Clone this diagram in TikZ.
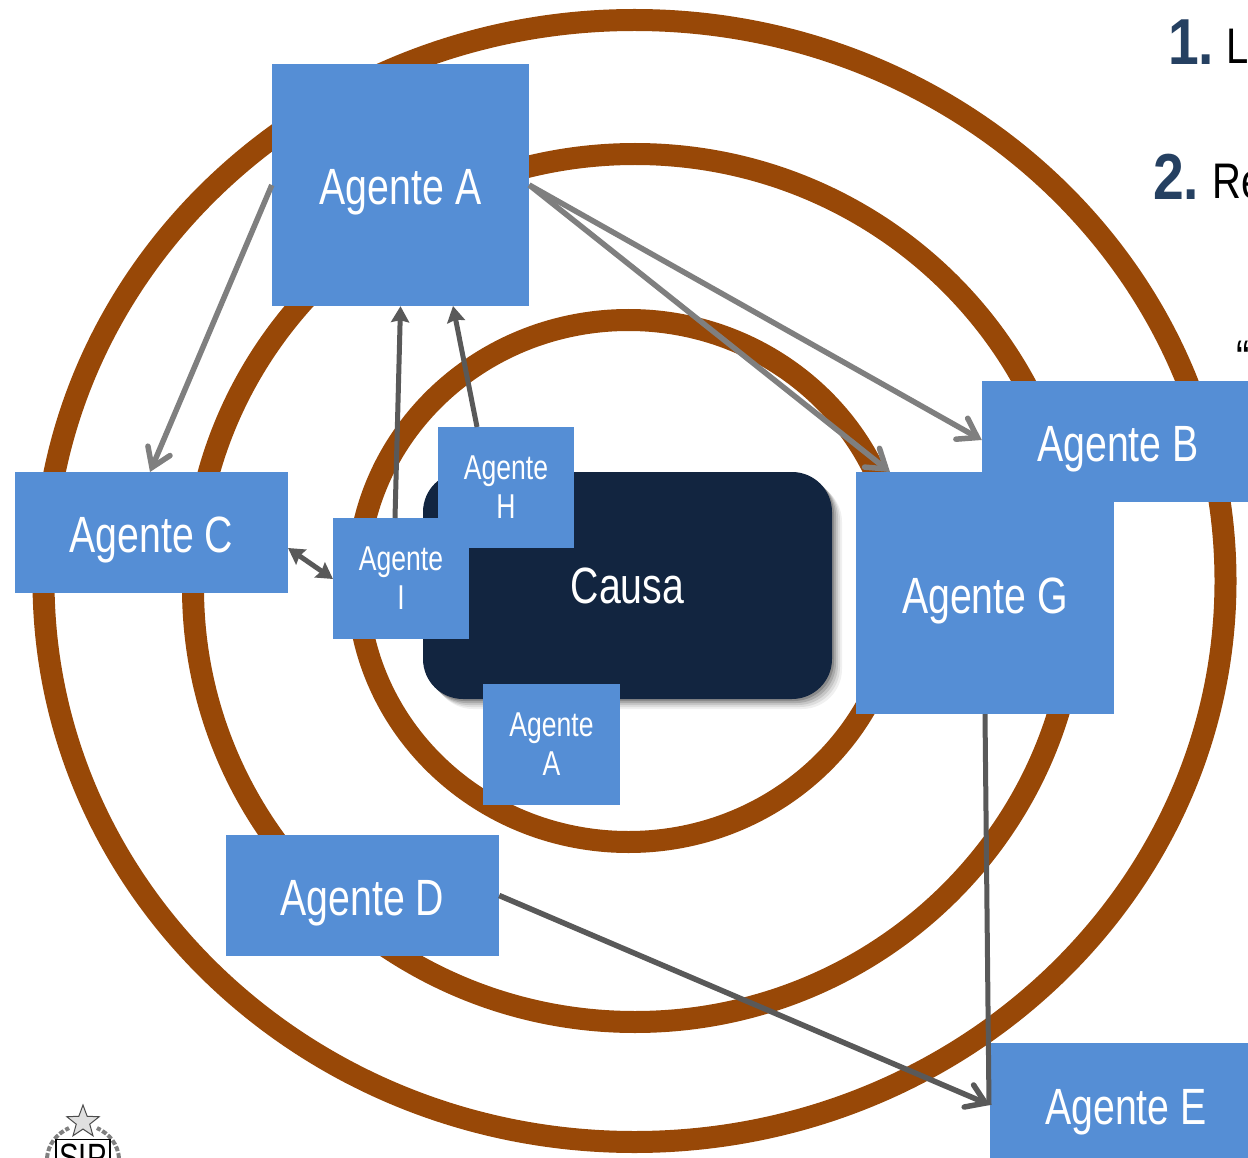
\documentclass[tikz,border=0pt]{standalone}
\usepackage{fontspec}
\setmainfont{Liberation Sans}
\newfontfamily\narrowfont[FakeStretch=0.77]{Liberation Sans}
\newfontfamily\labelfont[FakeStretch=0.8]{Liberation Sans}
\newfontfamily\numfont[FakeStretch=0.85]{Liberation Sans}
\usetikzlibrary{arrows.meta,shapes.geometric}
\definecolor{ringbrown}{HTML}{984807}
\definecolor{agentblue}{HTML}{558ED5}
\definecolor{causanavy}{HTML}{122540}
\definecolor{numnavy}{HTML}{254061}
\definecolor{lightarrow}{HTML}{7F7F7F}
\definecolor{darkarrow}{HTML}{595959}
\begin{document}
\begin{tikzpicture}[
				x=1pt, y=-1pt,
				ring/.style={draw=ringbrown, line width=22pt},
				agent/.style={rectangle, fill=agentblue, text=white, inner sep=0pt, font=\narrowfont\fontsize{51}{60}\selectfont},
				big/.style={agent, text height=51pt, text depth=11pt, minimum width=273pt, minimum height=121pt},
				tall/.style={agent, text height=51pt, text depth=11pt, minimum width=258pt, minimum height=242pt},
				small/.style={agent, align=center, minimum width=136pt, minimum height=121pt, font=\narrowfont\fontsize{34.5}{39}\selectfont},
				cause/.style={rectangle, fill=causanavy, text=white, rounded corners=40pt, inner sep=0pt, minimum width=409pt, minimum height=227pt, font=\narrowfont\fontsize{51}{56}\selectfont},
				pale/.style={draw=lightarrow, line width=5.5pt, -{Straight Barb[length=18pt,width=24pt,line width=5.5pt,line cap=round]}},
				dark/.style={draw=darkarrow, line width=5pt, -{Stealth[length=16pt,width=18pt,inset=2pt]}},
				darkbarb/.style={draw=darkarrow, line width=5.5pt, -{Straight Barb[length=18pt,width=24pt,line width=5.5pt,line cap=round]}},
				both/.style={draw=darkarrow, line width=5pt, {Stealth[length=16pt,width=18pt,inset=2pt]}-{Stealth[length=16pt,width=18pt,inset=2pt]}},
				number/.style={text=numnavy, inner sep=0pt, anchor=base west, font=\bfseries\numfont\fontsize{65}{65}\selectfont},
				clipped/.style={text=black, inner sep=0pt, anchor=base west, font=\labelfont\fontsize{50}{60}\selectfont}
				]
				\useasboundingbox (0,0) rectangle (1248,1158);
				% rings
				\draw[ring] (634.5,581) ellipse [x radius=591, y radius=561];
				\draw[ring] (635,588) ellipse [x radius=442, y radius=434];
				\draw[ring] (628.5,581) ellipse [x radius=271, y radius=261];
				% soft shadow of the cause
				\foreach \off/\op in {10/.06,8/.08,6/.10,4/.14,2/.18}
					\fill[black, opacity=\op, rounded corners=40pt] (423+\off,472+\off) rectangle (832+\off,699+\off);
				% cause and agents
				\node[cause] (causa) at (627.5,585.5) {\raisebox{-2pt}{Causa}};
				\node[tall, minimum width=257pt] (agentea) at (400.5,185) {Agente A};
				\node[big, minimum width=266pt] (agenteb) at (1115,441.5) {\hspace*{6pt}Agente B};
				\node[big] (agentec) at (151.5,532.5) {Agente C};
				\node[big] (agented) at (362.5,895.5) {Agente D};
				\node[big, minimum width=258pt, minimum height=115pt] (agentee) at (1119,1100.5) {\hspace*{14pt}\raisebox{-4pt}{Agente E}};
				\node[tall] (agenteg) at (985,593) {Agente G};
				\node[small] (agenteh) at (506,487.5) {Agente\\H};
				\node[small] (agentei) at (401,578.5) {Agente\\I};
				\node[small, minimum width=137pt] (agentea2) at (551.5,744.5) {Agente\\A};
				% connectors
				\coordinate (endc) at (150,472);
				\draw[pale] (agentea.west) -- (endc);
				\draw[pale] (agentea.east) -- (agenteb.west |- 0,440);
				\draw[pale] (agentea.east) -- (890,472);
				\draw[dark] (395,518) -- (agentea.south);
				\draw[dark] (477,427) -- (453,306);
				\draw[both] (288,548) -- (333,579);
				\draw[draw=darkarrow, line width=5pt] (agenteg.south) -- (989,1105);
				\draw[darkbarb] (agented.east) -- (990,1105);
				% clipped text
				\node[number] (numone) at (1168,65) {1.};
				\node[clipped] (textone) at (1226,64) {L};
				\node[number] (numtwo) at (1153,200) {2.};
				\node[clipped] (texttwo) at (1212,199) {Re};
				\node[clipped] (quote) at (1236,376) {“};
				% logo
				\node[star, star points=5, star point ratio=2.4, draw=black!70, fill=black!12, line width=1pt, minimum size=34pt, inner sep=0pt] (logostar) at (83,1122) {};
				\draw[draw=black!50, line width=4pt, dash pattern=on 5pt off 2pt] (47,1158) .. controls (48,1145) and (56,1134) .. (69,1128);
				\draw[draw=black!50, line width=4pt, dash pattern=on 5pt off 2pt] (119,1158) .. controls (118,1145) and (110,1134) .. (97,1128);
				\node[draw=black, fill=white, line width=1.2pt, minimum width=54pt, minimum height=36pt, inner sep=0pt, anchor=north, font=\narrowfont\fontsize{38}{38}\selectfont] (logosip) at (83,1139) {SIP};
\end{tikzpicture}
\end{document}
